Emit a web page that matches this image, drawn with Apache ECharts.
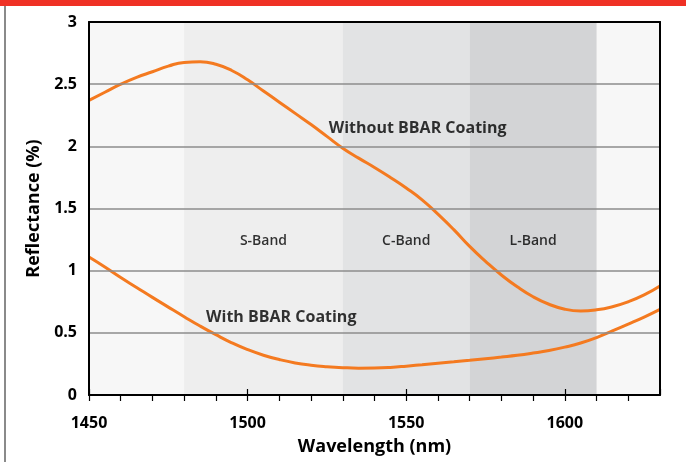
<!DOCTYPE html>
<html>
<head>
<meta charset="utf-8">
<script src="https://cdn.jsdelivr.net/npm/echarts@6/dist/echarts.min.js"></script>
<style>
html,body{margin:0;padding:0;background:#fff;}
#chart{width:686px;height:462px;}
</style>
</head>
<body>
<div id="chart"></div>
<script>
const wavelengths = [1450,1455,1460,1465,1470,1475,1480,1485,1490,1495,1500,1505,1510,1515,1520,1525,1530,1535,1540,1545,1550,1555,1560,1565,1570,1575,1580,1585,1590,1595,1600,1605,1610,1615,1620,1625,1630];
const withoutBBAR = [2.37,2.435,2.50,2.555,2.60,2.645,2.675,2.68,2.66,2.61,2.535,2.445,2.355,2.265,2.175,2.08,1.985,1.905,1.83,1.75,1.665,1.57,1.455,1.33,1.195,1.075,0.965,0.87,0.79,0.73,0.69,0.676,0.685,0.71,0.75,0.805,0.877];
const withBBAR = [1.11,1.03,0.945,0.865,0.785,0.707,0.63,0.555,0.485,0.42,0.365,0.32,0.285,0.258,0.24,0.228,0.22,0.216,0.217,0.222,0.232,0.244,0.256,0.267,0.279,0.292,0.305,0.319,0.337,0.358,0.385,0.418,0.462,0.515,0.57,0.627,0.689];
const bands = [
  {name:'S-Band', from:1480, to:1530},
  {name:'C-Band', from:1530, to:1570},
  {name:'L-Band', from:1570, to:1610}
];
const bandColors = ['#eeeeee','#e2e3e4','#d3d4d6'];
const bandLabelLevel = 1.24;
const yTicks = [0,0.5,1,1.5,2,2.5,3];
const xMajorTicks = [1450,1500,1550,1600];
const curveLabels = [
  {text:'Without BBAR Coating', x:1553.6, y:2.146},
  {text:'With BBAR Coating', x:1510.6, y:0.625}
];

const FONT = '"Open Sans", "Noto Sans", sans-serif';
const ORANGE = '#f47a20';

const chart = echarts.init(document.getElementById('chart'), null, {renderer:'canvas'});

const pairs = a => wavelengths.map((w,i)=>[w,a[i]]);
const labelStyle = (size, weight)=>({color:'#000', fontFamily:FONT, fontWeight:weight||700, fontSize:size});

chart.setOption({
  animation:false,
  backgroundColor:'#ffffff',
  graphic:[
    {type:'rect', left:0, top:0, shape:{width:686, height:6}, style:{fill:'#ef3125'}, z:100},
    {type:'rect', left:4, top:6, shape:{width:2, height:456}, style:{fill:'#8a8a8a'}, z:100}
  ],
  grid:{left:89, right:26, top:22, bottom:67, show:true, backgroundColor:'#f7f7f7', borderWidth:0},
  xAxis:[
    {type:'value', min:1450, max:1630, interval:10,
     axisLine:{show:true, lineStyle:{color:'#000', width:2}},
     axisTick:{show:true, length:6, lineStyle:{color:'#000', width:1.2}},
     axisLabel:{margin:20, showMaxLabel:false, ...labelStyle(16),
       formatter:v=> xMajorTicks.indexOf(v)>=0 ? String(v) : ''},
     splitLine:{show:false},
     name:'Wavelength (nm)', nameLocation:'middle', nameGap:43,
     nameTextStyle:labelStyle(18), z:10},
    {type:'value', min:1450, max:1630, interval:50, position:'bottom',
     axisLine:{show:false},
     axisTick:{show:true, inside:true, length:6, lineStyle:{color:'#000', width:1.2}},
     axisLabel:{show:false}, splitLine:{show:false}, z:10},
    {type:'value', min:1450, max:1630, position:'top',
     axisLine:{show:true, lineStyle:{color:'#000', width:2}},
     axisTick:{show:false}, axisLabel:{show:false}, splitLine:{show:false}, z:10}
  ],
  yAxis:[
    {type:'value', min:yTicks[0], max:yTicks[yTicks.length-1], interval:0.5,
     axisLine:{show:true, lineStyle:{color:'#000', width:2}},
     axisTick:{show:false},
     axisLabel:{margin:12, ...labelStyle(16)},
     splitLine:{show:true, lineStyle:{color:'#8c8c8c', width:1.5}},
     name:'Reflectance (%)', nameLocation:'middle', nameGap:46, nameRotate:90,
     nameTextStyle:labelStyle(18), z:10},
    {type:'value', min:0, max:3, position:'right',
     axisLine:{show:true, lineStyle:{color:'#000', width:2}},
     axisTick:{show:false}, axisLabel:{show:false}, splitLine:{show:false}, z:10}
  ],
  series:[
    {type:'line', name:'Without BBAR Coating', data:pairs(withoutBBAR), smooth:0.5,
     showSymbol:false, lineStyle:{color:ORANGE, width:3}, z:5,
     markArea:{silent:true, label:{show:false},
       data:bands.map((b,i)=>[
         {xAxis:b.from, itemStyle:{color:bandColors[i]}},
         {xAxis:b.to}
       ])}
    },
    {type:'line', name:'With BBAR Coating', data:pairs(withBBAR), smooth:0.5,
     showSymbol:false, lineStyle:{color:ORANGE, width:3}, z:5},
    {type:'scatter', symbolSize:0, z:6, silent:true,
     data:curveLabels.map(c=>({value:[c.x,c.y], name:c.text})),
     label:{show:true, position:'inside', formatter:p=>p.name, ...labelStyle(16)}
    },
    {type:'scatter', symbolSize:0, z:6, silent:true,
     data:bands.map(b=>({value:[(b.from+b.to)/2, bandLabelLevel], name:b.name})),
     label:{show:true, position:'inside', formatter:p=>p.name, ...labelStyle(14, 600)}
    }
  ]
});
</script>
</body>
</html>
